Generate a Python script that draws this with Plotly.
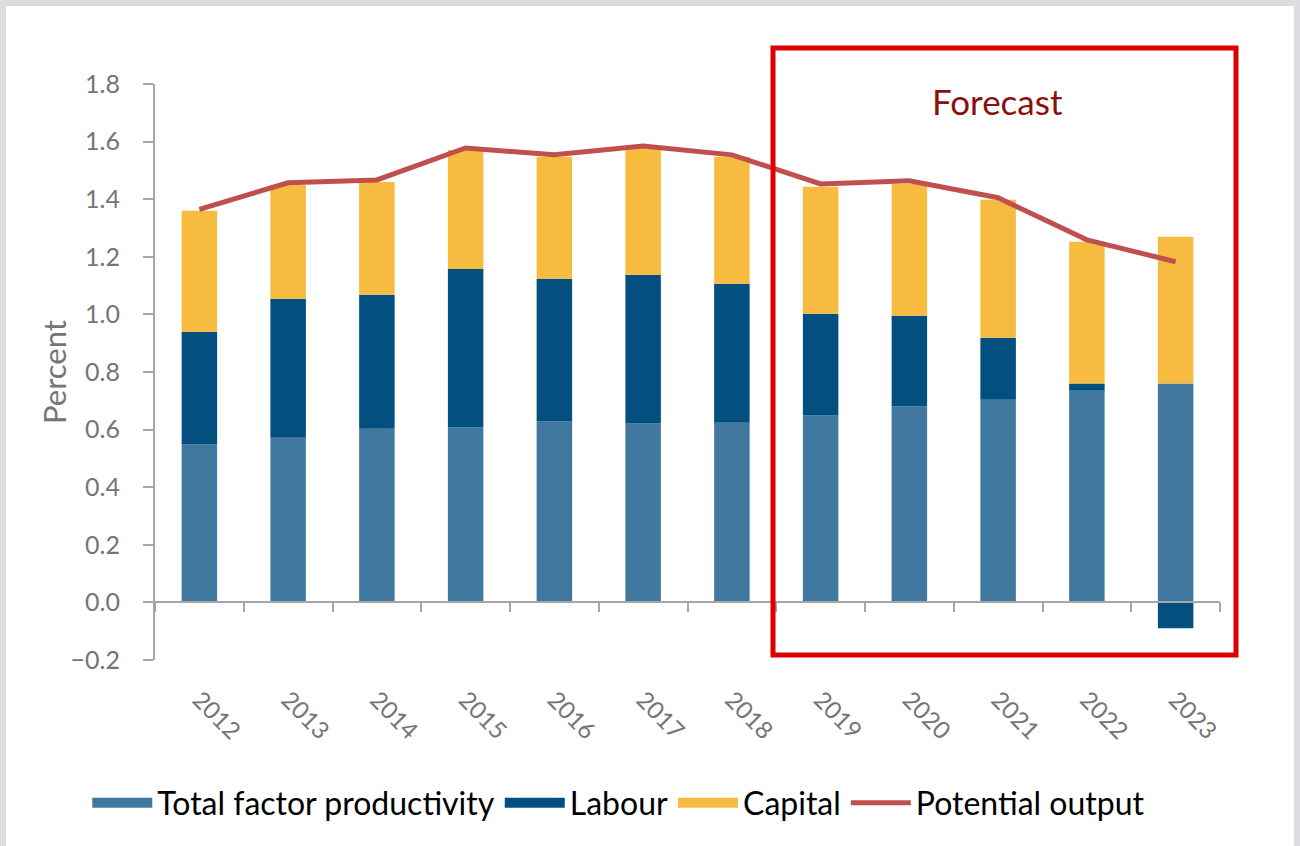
import plotly.graph_objects as go

years = ["2012", "2013", "2014", "2015", "2016", "2017", "2018",
         "2019", "2020", "2021", "2022", "2023"]
tfp = [0.548, 0.572, 0.603, 0.607, 0.628, 0.621, 0.624, 0.649, 0.680, 0.704, 0.735, 0.760]
labour = [0.392, 0.482, 0.465, 0.551, 0.496, 0.517, 0.482, 0.353, 0.315, 0.215, 0.025, -0.090]
capital = [0.420, 0.396, 0.392, 0.413, 0.423, 0.440, 0.441, 0.441, 0.458, 0.479, 0.492, 0.510]
potential = [1.365, 1.457, 1.467, 1.578, 1.554, 1.585, 1.554, 1.453, 1.464, 1.405, 1.259, 1.183]

C_TFP = "#41789f"
C_LAB = "#034f80"
C_CAP = "#f7bb40"
C_POT = "#c0504d"
GRAY_TXT = "#757575"
AXIS_GRAY = "#a6a6a6"
FONT = "Lato"

fig = go.Figure()
for name, vals, col in [("Total factor productivity", tfp, C_TFP),
                        ("Labour", labour, C_LAB),
                        ("Capital", capital, C_CAP)]:
    fig.add_trace(go.Bar(x=years, y=vals, name=name, marker_color=col,
                         marker_line_width=0, showlegend=False))
fig.add_trace(go.Scatter(x=years, y=potential, name="Potential output", mode="lines",
                         line=dict(color=C_POT, width=5), xaxis="x2", showlegend=False))

# legend proxies (wide swatches)
for name, col, w in [("Total factor productivity", C_TFP, 17), ("Labour", C_LAB, 17),
                     ("Capital", C_CAP, 17), ("Potential output", C_POT, 5)]:
    fig.add_trace(go.Scatter(x=[None], y=[None], name=name, mode="lines",
                             line=dict(color=col, width=w), showlegend=True))

L, R, T, B = 155, 80, 84, 186
W, H = 1300, 846
pw, ph = W - L - R, H - T - B

def px(xp):
    return (xp - L) / pw

def py(yp):
    return (H - B - yp) / ph

fig.update_layout(
    width=W, height=H,
    margin=dict(l=L, r=R, t=T, b=B),
    paper_bgcolor="#dcdde0",
    plot_bgcolor="white",
    barmode="relative",
    bargap=0.6,
    font=dict(family=FONT, color=GRAY_TXT, size=24),
    xaxis=dict(type="category", categoryarray=years, showline=False, ticks="",
               tickangle=45, tickfont=dict(size=24, color=GRAY_TXT),
               showgrid=False, zeroline=False, ticklabelstandoff=20),
    xaxis2=dict(type="category", categoryarray=years, overlaying="x", matches="x",
                anchor="free", position=0.1, side="bottom", showline=True,
                linecolor=AXIS_GRAY, linewidth=2, ticks="outside", tickson="boundaries",
                ticklen=9, tickwidth=2, tickcolor=AXIS_GRAY, showticklabels=False,
                showgrid=False, zeroline=False),
    yaxis=dict(range=[-0.2, 1.8], tickvals=[-0.2, 0, 0.2, 0.4, 0.6, 0.8, 1.0, 1.2, 1.4, 1.6, 1.8],
               tickformat=".1f", showline=True, linecolor=AXIS_GRAY, linewidth=2,
               ticks="outside", ticklen=10, tickwidth=2, tickcolor=AXIS_GRAY,
               showgrid=False, zeroline=False, ticklabelstandoff=18,
               tickfont=dict(size=25, color=GRAY_TXT)),
    legend=dict(orientation="h", xref="container", yref="container", x=0.476, y=1 - 803 / H,
                xanchor="center", yanchor="middle", font=dict(size=32, color="black"),
                itemwidth=60, bgcolor="rgba(0,0,0,0)", traceorder="normal"),
    shapes=[
        dict(type="rect", xref="paper", yref="paper", x0=px(6), x1=px(1294), y0=py(846), y1=py(6),
             fillcolor="white", line_width=0, layer="below"),
        dict(type="rect", xref="paper", yref="paper", x0=px(773), x1=px(1236), y0=py(655), y1=py(48),
             line=dict(color="#dd0000", width=5), fillcolor="rgba(0,0,0,0)", layer="above"),
    ],
    annotations=[
        dict(text="Forecast", xref="paper", yref="paper", x=px(998), y=py(101), showarrow=False,
             font=dict(size=35, color="#8b1010", family=FONT), xanchor="center", yanchor="middle"),
        dict(text="Percent", xref="paper", yref="paper", x=px(54), y=py(372), showarrow=False,
             textangle=-90, font=dict(size=31, color=GRAY_TXT, family=FONT),
             xanchor="center", yanchor="middle"),
    ],
)

fig.write_html("out.html", config={"displayModeBar": False},
               post_script="document.body.style.margin='0px';document.body.style.overflow='hidden';")
